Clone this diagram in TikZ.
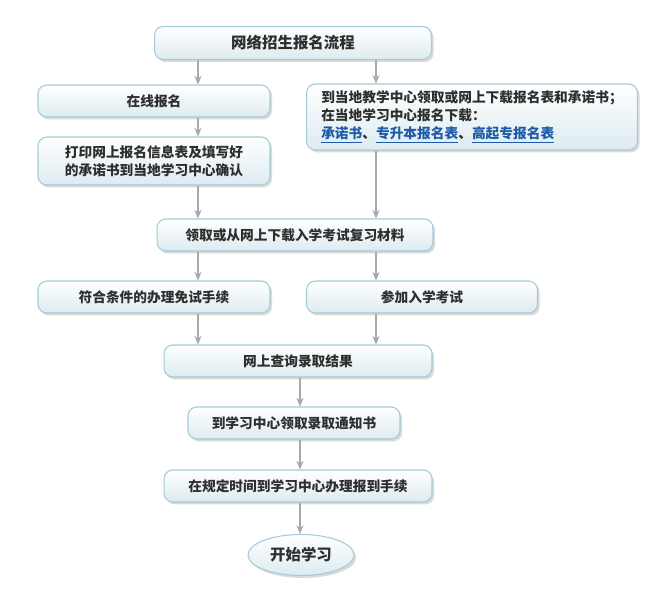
\documentclass[tikz,border=0pt]{standalone}
\usepackage{fontspec}
\newfontfamily\cjk{Noto Sans CJK SC}
\usetikzlibrary{positioning,arrows.meta,shadows,shapes.geometric}
\definecolor{ink}    {HTML}{2E2E2E}
\definecolor{edge}   {HTML}{A3CCD8}
\definecolor{boxtop} {HTML}{FFFFFF}
\definecolor{boxbot} {HTML}{DDEBF0}
\definecolor{wire}   {HTML}{A9A9A9}
\definecolor{link}   {HTML}{1D5AA8}
\definecolor{shade}  {HTML}{D6D6D6}
\tikzset{
  stage/.style = {rounded corners=5pt, draw=edge, line width=0.6pt,
                  top color=boxtop, bottom color=boxbot, text=ink,
                  align=center, minimum height=6.4mm, inner sep=2pt,
                  font=\cjk\bfseries\fontsize{7.8}{10.2}\selectfont,
                  drop shadow={shadow xshift=1.2pt, shadow yshift=-1.4pt,
                               fill=shade, opacity=0.9}},
  finish/.style = {stage, ellipse, rounded corners=0pt,
                  font=\cjk\bfseries\fontsize{8.8}{11}\selectfont},
  flow/.style  = {-{Stealth[length=1.7mm, width=1.4mm, inset=0.5mm]},
                  draw=wire, line width=0.7pt},
}
\newcommand{\weblink}[1]{\textcolor{link}{\underline{#1}}}

\begin{document}
\begin{tikzpicture}[x=0.02cm, y=-0.02cm]
  \useasboundingbox[fill=white] (0,0) rectangle (653,611);

  % lanes for the connectors
  \coordinate (lx) at (198,0);
  \coordinate (rx) at (376,0);
  \coordinate (mx) at (300,0);

  % stages
  \node[stage, minimum width=5.54cm, minimum height=6.6mm,
        font=\cjk\bfseries\fontsize{8.8}{11}\selectfont]
        (title) at (293,43) {网络招生报名流程};
  \node[stage, minimum width=4.64cm] (online) at (154,101) {在线报名};
  \node[stage, minimum width=4.64cm, minimum height=9.6mm]
        (print) at (154,161) {打印网上报名信息表及填写好\\的承诺书到当地学习中心确认};
  \node[stage, minimum width=6.62cm, minimum height=13.2mm, align=left]
        (fetch) at (472,117)
        {到当地教学中心领取或网上下载报名表和承诺书；\\
         在当地学习中心报名下载：\\
         \weblink{承诺书}、\weblink{专升本报名表}、\weblink{高起专报名表}};
  \node[stage, minimum width=5.52cm] (study) at (295,235) {领取或从网上下载入学考试复习材料};
  \node[stage, minimum width=4.64cm] (exempt) at (154,297) {符合条件的办理免试手续};
  \node[stage, minimum width=4.62cm] (exam) at (422,297) {参加入学考试};
  \node[stage, minimum width=5.36cm] (query) at (298,361) {网上查询录取结果};
  \node[stage, minimum width=4.24cm] (notice) at (294,423) {到学习中心领取录取通知书};
  \node[stage, minimum width=5.36cm] (report) at (298,486) {在规定时间到学习中心办理报到手续};
  \node[finish, minimum width=2.12cm, minimum height=8.2mm]
        (begin) at (301,555) {开始学习};

  % connectors
  \draw[flow] (title.south -| lx) -- (online.north -| lx);
  \draw[flow] (title.south -| rx) -- (fetch.north -| rx);
  \draw[flow] (online.south -| lx) -- (print.north -| lx);
  \draw[flow] (print.south -| lx) -- (study.north -| lx);
  \draw[flow] (fetch.south -| rx) -- (study.north -| rx);
  \draw[flow] (study.south -| lx) -- (exempt.north -| lx);
  \draw[flow] (study.south -| rx) -- (exam.north -| rx);
  \draw[flow] (exempt.south -| lx) -- (query.north -| lx);
  \draw[flow] (exam.south -| rx) -- (query.north -| rx);
  \draw[flow] (query.south -| mx) -- (notice.north -| mx);
  \draw[flow] (notice.south -| mx) -- (report.north -| mx);
  \draw[flow] (report.south -| mx) -- (begin.north -| mx);
\end{tikzpicture}
\end{document}
